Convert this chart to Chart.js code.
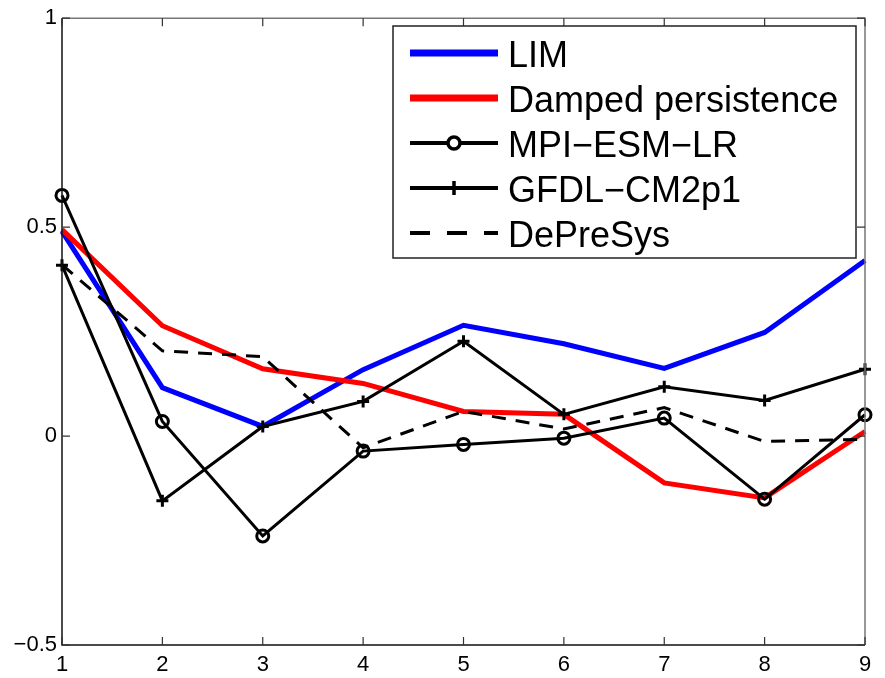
<!DOCTYPE html>
<html>
<head>
<meta charset="utf-8">
<script src="https://cdn.jsdelivr.net/npm/chart.js@4/dist/chart.umd.min.js"></script>
<style>
  html, body { margin: 0; padding: 0; background: #fff; }
  #wrap { width: 885px; height: 678px; }
</style>
</head>
<body>
<div id="wrap"><canvas id="c" width="885" height="678"></canvas></div>
<script>
const categories = ['1','2','3','4','5','6','7','8','9'];
const yTickValues = [-0.5, 0, 0.5, 1];
const yTickLabels = ['\u22120.5', '0', '0.5', '1'];

const limValues      = [0.490, 0.116, 0.023, 0.159, 0.265, 0.221, 0.162, 0.248, 0.420];
const dampedValues   = [0.494, 0.264, 0.161, 0.126, 0.059, 0.052, -0.112, -0.148, 0.011];
const mpiValues      = [0.576, 0.035, -0.239, -0.036, -0.020, -0.005, 0.043, -0.151, 0.051];
const gfdlValues     = [0.409, -0.155, 0.023, 0.083, 0.227, 0.052, 0.118, 0.085, 0.160];
const depresysValues = [0.410, 0.204, 0.190, -0.028, 0.059, 0.017, 0.068, -0.013, -0.008];

const FONT = '"Liberation Sans", Arial, Helvetica, sans-serif';

const datasets = [
  { label: 'LIM', data: limValues, borderColor: '#0000ff', borderWidth: 5, pointRadius: 0, order: 10, legendStyle: 'none' },
  { label: 'Damped persistence', data: dampedValues, borderColor: '#ff0000', borderWidth: 5, pointRadius: 0, order: 9, legendStyle: 'none' },
  { label: 'MPI\u2212ESM\u2212LR', data: mpiValues, borderColor: '#000', borderWidth: 3, pointStyle: 'circle', pointRadius: 6, pointBorderWidth: 3, pointBackgroundColor: 'rgba(0,0,0,0)', pointBorderColor: '#000', order: 1, legendStyle: 'circle' },
  { label: 'GFDL\u2212CM2p1', data: gfdlValues, borderColor: '#000', borderWidth: 3, pointStyle: 'cross', pointRadius: 6, pointBorderWidth: 3, pointBorderColor: '#000', order: 2, legendStyle: 'cross' },
  { label: 'DePreSys', data: depresysValues, borderColor: '#000', borderWidth: 3, borderDash: [14, 10], pointRadius: 0, order: 3, legendStyle: 'none' }
].map(d => Object.assign({ fill: false, tension: 0, clip: false, borderCapStyle: 'butt', borderJoinStyle: 'miter' }, d));

const framePlugin = {
  id: 'frame',
  afterDraw(chart) {
    const ctx = chart.ctx;
    const a = chart.chartArea;
    const xs = chart.scales.x, ys = chart.scales.y;
    ctx.save();
    ctx.lineWidth = 1.5;
    ctx.strokeStyle = '#777';
    ctx.beginPath();
    ctx.moveTo(a.left, a.top); ctx.lineTo(a.right, a.top); ctx.lineTo(a.right, a.bottom);
    ctx.stroke();
    ctx.strokeStyle = '#111';
    ctx.beginPath();
    ctx.moveTo(a.left, a.top); ctx.lineTo(a.left, a.bottom); ctx.lineTo(a.right, a.bottom);
    ctx.stroke();
    const tl = 8;
    ctx.lineWidth = 1.2;
    ctx.strokeStyle = '#333';
    categories.forEach((c, i) => {
      const px = xs.getPixelForValue(i);
      ctx.beginPath();
      ctx.moveTo(px, a.bottom); ctx.lineTo(px, a.bottom - tl);
      ctx.moveTo(px, a.top); ctx.lineTo(px, a.top + tl);
      ctx.stroke();
    });
    yTickValues.forEach(v => {
      const py = ys.getPixelForValue(v);
      ctx.beginPath();
      ctx.moveTo(a.left, py); ctx.lineTo(a.left + tl, py);
      ctx.moveTo(a.right, py); ctx.lineTo(a.right - tl, py);
      ctx.stroke();
    });
    // legend
    const lx = 393, ly = 26, lw = 463, lh = 232;
    ctx.fillStyle = '#fff';
    ctx.fillRect(lx, ly, lw, lh);
    ctx.lineWidth = 1.5;
    ctx.strokeStyle = '#222';
    ctx.strokeRect(lx, ly, lw, lh);
    ctx.font = '36px ' + FONT;
    ctx.textBaseline = 'alphabetic';
    ctx.textAlign = 'left';
    chart.data.datasets.forEach((d, i) => {
      const cy = 53 + i * 45;
      ctx.save();
      ctx.strokeStyle = d.borderColor;
      ctx.lineWidth = d.borderWidth < 4 ? 4 : 7;
      ctx.setLineDash(d.borderDash ? [20, 17] : []);
      ctx.beginPath();
      ctx.moveTo(410, cy); ctx.lineTo(498, cy);
      ctx.stroke();
      ctx.setLineDash([]);
      ctx.lineWidth = 3.5;
      if (d.legendStyle === 'circle') {
        ctx.fillStyle = '#fff';
        ctx.beginPath(); ctx.arc(454, cy, 6, 0, Math.PI * 2); ctx.fill(); ctx.stroke();
      } else if (d.legendStyle === 'cross') {
        ctx.beginPath(); ctx.moveTo(454, cy - 7); ctx.lineTo(454, cy + 7); ctx.stroke();
      }
      ctx.restore();
      ctx.fillStyle = '#000';
      ctx.fillText(d.label, 508, cy + 14);
    });
    ctx.restore();
  }
};

new Chart(document.getElementById('c'), {
  type: 'line',
  data: { labels: categories, datasets },
  options: {
    responsive: false,
    animation: false,
    devicePixelRatio: 1,
    layout: { padding: { top: 15, right: 20, left: 0, bottom: 0 } },
    plugins: { legend: { display: false }, tooltip: { enabled: false } },
    scales: {
      x: {
        type: 'category',
        offset: false,
        grid: { display: false, drawTicks: false },
        border: { display: false },
        ticks: { autoSkip: false, maxRotation: 0, padding: 7, color: '#000', font: { family: FONT, size: 22 } },
        afterFit(s) { s.height = 33; }
      },
      y: {
        min: -0.5, max: 1,
        grid: { display: false, drawTicks: false },
        border: { display: false },
        afterBuildTicks(s) { s.ticks = yTickValues.map(v => ({ value: v })); },
        ticks: {
          padding: 5, color: '#000', font: { family: FONT, size: 22 },
          callback: (v) => { const i = yTickValues.indexOf(v); return i >= 0 ? yTickLabels[i] : ''; }
        },
        afterFit(s) { s.width = 62; }
      }
    }
  },
  plugins: [framePlugin]
});
</script>
</body>
</html>
